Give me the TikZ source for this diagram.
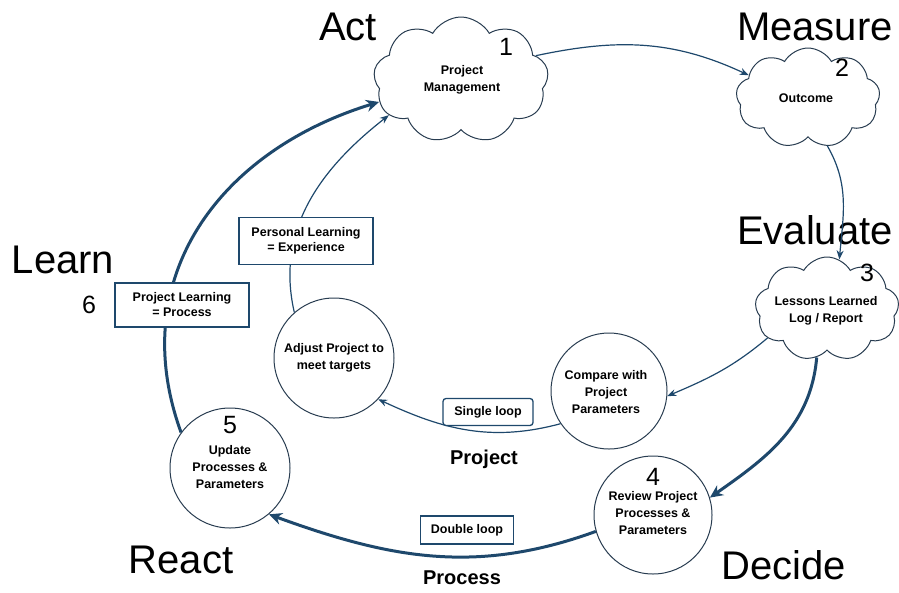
\documentclass[tikz,border=0pt]{standalone}
\usepackage{fontspec}
\setmainfont{Liberation Sans}
\usetikzlibrary{shapes.symbols,arrows.meta}
\definecolor{dblue}{RGB}{30,72,108}
\definecolor{cline}{RGB}{40,60,80}
\begin{document}
\begin{tikzpicture}[x=1pt,y=1pt,
 big/.style={font=\fontsize{40}{40}\selectfont, inner sep=0},
 num/.style={font=\fontsize{25}{25}\selectfont, inner sep=0},
 sm/.style={font=\bfseries\fontsize{12.5}{17}\selectfont, align=center, inner sep=0},
 mid/.style={font=\bfseries\fontsize{20}{20}\selectfont, inner sep=0},
 cl/.style={cloud, draw=cline, line width=1pt, cloud puffs=9, cloud puff arc=120, cloud ignores aspect, inner sep=0},
 circ/.style={circle, draw=cline, line width=1pt, inner sep=0},
 bx/.style={draw=dblue, line width=1.3pt, fill=white, align=center, inner sep=0, font=\bfseries\fontsize{12.5}{15}\selectfont},
 tarr/.style={draw=dblue, line width=1.2pt, -{Stealth[length=9pt,width=7pt]}},
 karr/.style={draw=dblue, line width=3pt, -{Stealth[length=13pt,width=12pt]}},
]
\useasboundingbox (0,-592) rectangle (899,0);

% clouds
\node[cl, minimum width=175pt, minimum height=126pt] (c1) at (461,-80) {};
\node[cl, minimum width=144pt, minimum height=100pt] (c2) at (808,-98) {};
\node[cl, minimum width=144pt, minimum height=104pt] (c3) at (827,-309) {};

% circles
\node[circ, minimum size=116pt] (cmp) at (609,-391) {};
\node[circ, minimum size=118pt] (c4) at (653,-515) {};
\node[circ, minimum size=120pt] (adj) at (334,-358) {};
\node[circ, minimum size=120pt] (c5) at (230,-468) {};

% texts
\node[sm] (t1) at (462,-80) {Project\\Management};
\node[sm] (t2) at (806,-98) {Outcome};
\node[sm] (t3) at (826,-311) {Lessons Learned\\Log / Report};
\node[sm] (tcmp) at (606,-392) {Compare with\\Project\\Parameters};
\node[num] (n4) at (653,-477) {4};
\node[sm] (t4) at (653,-513) {Review Project\\Processes \&\\Parameters};
\node[sm] (tadj) at (334,-358) {Adjust Project to\\meet targets};
\node[num] (n5) at (230,-425) {5};
\node[sm] (t5) at (230,-467) {Update\\Processes \&\\Parameters};

\node[num] (n1) at (506,-47) {1};
\node[num] (n2) at (842,-68) {2};
\node[num] (n3) at (867,-273) {3};
\node[num] (n6) at (89,-305) {6};

\node[big] (lact) at (348,-27) {Act};
\node[big] (lmeas) at (815,-27) {Measure};
\node[big] (leval) at (815,-230) {Evaluate};
\node[big] (llearn) at (63,-260) {Learn};
\node[big] (lreact) at (181,-560) {React};
\node[big] (ldecide) at (784,-565) {Decide};

\node[mid] (lproj) at (484,-459) {Project};
\node[mid] (lproc) at (462,-578) {Process};

% connectors
\draw[tarr] (c1.18) to[out=12,in=155] (c2.159);
\draw[tarr] (c2.-68) to[out=-60,in=85] (c3.76);
\draw[tarr] (c3.206) to[out=-140,in=23] (cmp.-5);
\draw[karr] (c3.258) to[out=-95,in=35] (c4.17);
\draw[tarr] (cmp.214) to[out=195,in=-25] (adj.-43);
\draw[karr] (c4.196) to[out=200,in=-20] (c5.-50);
\draw[tarr] (adj.131) to[out=103,in=218] (c1.206);
\draw[karr] (c5.144) to[out=110,in=197,looseness=1.1] (c1.195);

% boxes
\node[bx, minimum width=134pt, minimum height=47pt] (bp) at (306,-241) {Personal Learning\\= Experience};
\node[bx, minimum width=134pt, minimum height=44pt] (bl) at (182,-305) {Project Learning\\= Process};
\node[bx, rounded corners=3pt, minimum width=90pt, minimum height=27pt] (bs) at (488,-412) {Single loop};
\node[bx, minimum width=93pt, minimum height=28pt] (bd) at (467,-530) {Double loop};
\end{tikzpicture}
\end{document}
